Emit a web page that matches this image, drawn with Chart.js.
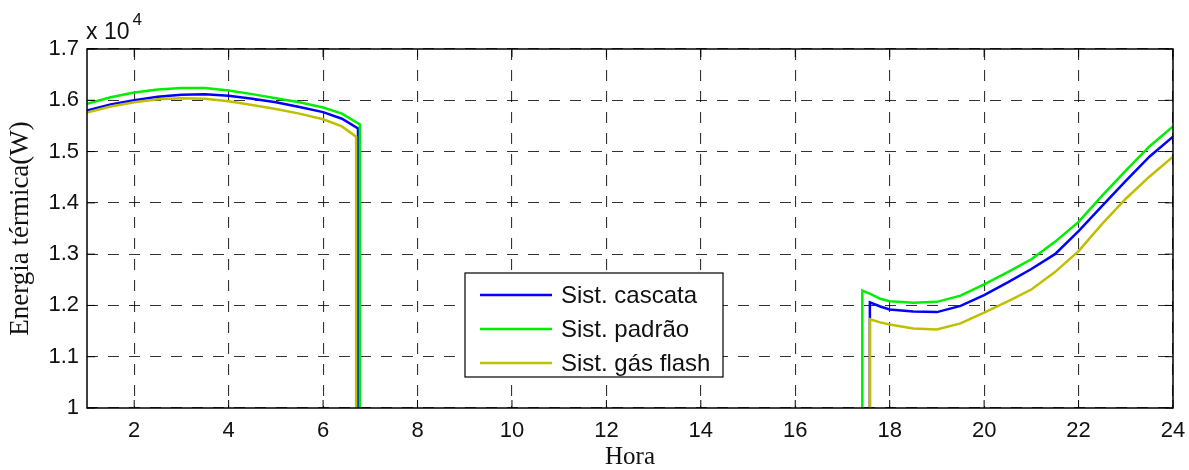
<!DOCTYPE html>
<html>
<head>
<meta charset="utf-8">
<title>Energia térmica</title>
<script src="https://cdn.jsdelivr.net/npm/chart.js@4/dist/chart.umd.min.js"></script>
<style>
  html, body { margin: 0; padding: 0; background: #fff; }
  #wrap { width: 1189px; height: 470px; }
</style>
</head>
<body>
<div id="wrap"><canvas id="energyChart" width="1189" height="470"></canvas></div>
<script>
// ------------------- DATA (W) -------------------
const hoursCascata = [1, 1.5, 2, 2.5, 3, 3.5, 4, 4.5, 5, 5.5, 6, 6.4, 6.74, 6.74, 12,
  17.58, 17.58, 17.8, 18, 18.5, 19, 19.5, 20, 20.5, 21, 21.5, 22, 22.5, 23, 23.5, 24];
const cascata = [15800, 15920, 16000, 16070, 16110, 16120, 16090, 16030, 15960, 15870, 15770, 15640, 15450, 10000, null,
  10000, 12060, 11980, 11920, 11880, 11870, 11990, 12200, 12450, 12710, 13000, 13450, 13940, 14430, 14900, 15290];

const hoursPadrao = [1, 1.5, 2, 2.5, 3, 3.5, 4, 4.5, 5, 5.5, 6, 6.4, 6.78, 6.78, 12,
  17.42, 17.42, 17.6, 17.8, 18, 18.5, 19, 19.5, 20, 20.5, 21, 21.5, 22, 22.5, 23, 23.5, 24];
const padrao = [15930, 16060, 16150, 16210, 16240, 16240, 16190, 16120, 16040, 15960, 15860, 15740, 15530, 10000, null,
  10000, 12290, 12220, 12130, 12080, 12050, 12070, 12190, 12410, 12650, 12900, 13240, 13630, 14140, 14630, 15100, 15490];

const hoursFlash = [1, 1.5, 2, 2.5, 3, 3.5, 4, 4.5, 5, 5.5, 6, 6.4, 6.70, 6.70, 12,
  17.58, 17.58, 17.8, 18, 18.5, 19, 19.5, 20, 20.5, 21, 21.5, 22, 22.5, 23, 23.5, 24];
const gasFlash = [15760, 15880, 15960, 16020, 16040, 16030, 15980, 15910, 15830, 15740, 15630, 15490, 15290, 10000, null,
  10000, 11730, 11670, 11630, 11550, 11530, 11650, 11860, 12080, 12310, 12650, 13060, 13590, 14080, 14510, 14900];

const seriesLabels = ["Sist. cascata", "Sist. padrão", "Sist. gás flash"];

// axis ticks
const xTicks = [2, 4, 6, 8, 10, 12, 14, 16, 18, 20, 22, 24];
const yTicks = [10000, 11000, 12000, 13000, 14000, 15000, 16000, 17000];
const yTickLabels = ["1", "1.1", "1.2", "1.3", "1.4", "1.5", "1.6", "1.7"];

const SANS = "'Liberation Sans', Arial, sans-serif";
const SERIF = "'Liberation Serif', 'Times New Roman', serif";

function toPoints(xs, ys) {
  return xs.map((x, i) => ({ x: x, y: ys[i] }));
}

// ------------------- PLUGINS -------------------
// box around the axes, inner tick marks and the x 10^4 multiplier
const framePlugin = {
  id: "frame",
  afterDraw(chart) {
    const { ctx, chartArea: a, scales } = chart;
    ctx.save();
    ctx.strokeStyle = "#000";
    ctx.lineWidth = 1.5;
    ctx.strokeRect(a.left, a.top, a.right - a.left, a.bottom - a.top);

    ctx.lineWidth = 1;
    const len = 8;
    ctx.beginPath();
    xTicks.forEach(v => {
      const x = scales.x.getPixelForValue(v);
      ctx.moveTo(x, a.bottom); ctx.lineTo(x, a.bottom - len);
      ctx.moveTo(x, a.top); ctx.lineTo(x, a.top + len);
    });
    yTicks.forEach(v => {
      const y = scales.y.getPixelForValue(v);
      ctx.moveTo(a.left, y); ctx.lineTo(a.left + len, y);
      ctx.moveTo(a.right, y); ctx.lineTo(a.right - len, y);
    });
    ctx.stroke();

    ctx.fillStyle = "#111";
    ctx.textBaseline = "alphabetic";
    ctx.textAlign = "left";
    ctx.font = "23px " + SANS;
    ctx.fillText("x 10", a.left - 1, a.top - 10);
    const w = ctx.measureText("x 10").width;
    ctx.font = "17px " + SANS;
    ctx.fillText("4", a.left + w + 2, a.top - 24);
    ctx.restore();
  }
};

// legend box drawn over the plot
const legendBoxPlugin = {
  id: "legendBox",
  afterDraw(chart) {
    const { ctx } = chart;
    const box = { x: 465, y: 273, w: 258, h: 104 };
    ctx.save();
    ctx.fillStyle = "#fff";
    ctx.fillRect(box.x, box.y, box.w, box.h);
    ctx.strokeStyle = "#000";
    ctx.lineWidth = 1.2;
    ctx.strokeRect(box.x, box.y, box.w, box.h);

    ctx.font = "24px " + SANS;
    ctx.textBaseline = "middle";
    ctx.textAlign = "left";
    chart.data.datasets.forEach((ds, i) => {
      const y = box.y + 22 + i * 34;
      ctx.strokeStyle = ds.borderColor;
      ctx.lineWidth = 2.5;
      ctx.beginPath();
      ctx.moveTo(box.x + 15, y);
      ctx.lineTo(box.x + 87, y);
      ctx.stroke();
      ctx.fillStyle = "#111";
      ctx.fillText(ds.label, box.x + 96, y + 1);
    });
    ctx.restore();
  }
};

// ------------------- CHART -------------------
const ctx = document.getElementById("energyChart").getContext("2d");

const energyChart = new Chart(ctx, {
  type: "line",
  data: {
    datasets: [
      {
        label: seriesLabels[0],
        data: toPoints(hoursCascata, cascata),
        borderColor: "#0000ff",
        borderWidth: 2.5,
        pointRadius: 0,
        tension: 0,
        spanGaps: false,
        order: 2
      },
      {
        label: seriesLabels[1],
        data: toPoints(hoursPadrao, padrao),
        borderColor: "#00ee00",
        borderWidth: 2.5,
        pointRadius: 0,
        tension: 0,
        spanGaps: false,
        order: 1
      },
      {
        label: seriesLabels[2],
        data: toPoints(hoursFlash, gasFlash),
        borderColor: "#bfbf00",
        borderWidth: 2.5,
        pointRadius: 0,
        tension: 0,
        spanGaps: false,
        order: 0
      }
    ]
  },
  options: {
    responsive: false,
    animation: false,
    layout: { padding: { top: 49, right: 16, left: 0, bottom: 0 } },
    scales: {
      x: {
        type: "linear",
        min: 1,
        max: 24,
        afterBuildTicks: scale => { scale.ticks = xTicks.map(v => ({ value: v })); },
        afterFit: scale => {
          scale.height = 62;
          // labels at the ends must not shrink the plot area
          scale.paddingLeft = 0;
          scale.paddingRight = 0;
        },
        ticks: {
          autoSkip: false,
          maxRotation: 0,
          padding: 10,
          color: "#111",
          font: { family: SANS, size: 22 }
        },
        grid: { color: "rgba(0,0,0,0.8)", lineWidth: 1.1, drawTicks: false },
        border: { display: false, dash: [11, 10] },
        title: {
          display: true,
          text: "Hora",
          color: "#111",
          font: { family: SERIF, size: 25, lineHeight: 1 },
          padding: { top: 0, bottom: 0 }
        }
      },
      y: {
        min: 10000,
        max: 17000,
        afterBuildTicks: scale => { scale.ticks = yTicks.map(v => ({ value: v })); },
        afterFit: scale => { scale.width = 87; },
        ticks: {
          padding: 8,
          color: "#111",
          font: { family: SANS, size: 22 },
          callback: (value, index) => yTickLabels[index]
        },
        grid: { color: "rgba(0,0,0,0.8)", lineWidth: 1.1, drawTicks: false },
        border: { display: false, dash: [11, 10] },
        title: {
          display: true,
          text: "Energia térmica(W)",
          color: "#111",
          font: { family: SERIF, size: 27, lineHeight: 1 },
          padding: { top: 7, bottom: 0 }
        }
      }
    },
    plugins: {
      legend: { display: false },
      tooltip: { enabled: false }
    }
  },
  plugins: [framePlugin, legendBoxPlugin]
});
</script>
</body>
</html>
